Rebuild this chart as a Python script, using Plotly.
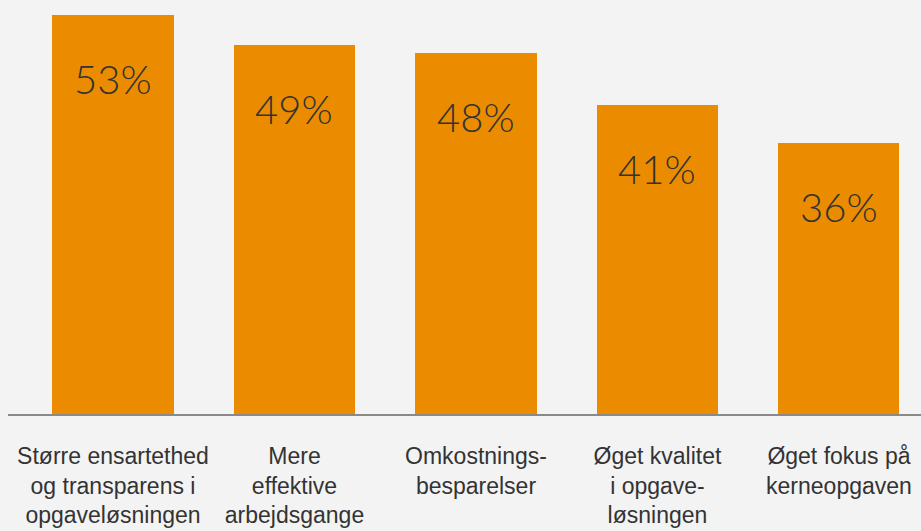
import plotly.graph_objects as go

categories = [
    "Større ensartethed<br>og transparens i<br>opgaveløsningen",
    "Mere<br>effektive<br>arbejdsgange",
    "Omkostnings-<br>besparelser",
    "Øget kvalitet<br>i opgave-<br>løsningen",
    "Øget fokus på<br>kerneopgaven",
]
values = [53, 49, 48, 41, 36]
value_labels = ["53%", "49%", "48%", "41%", "36%"]

bar_color = "#EB8C00"
bg = "#F3F3F3"
text_color = "#333333"

x_idx = list(range(len(categories)))

fig = go.Figure()
fig.add_trace(go.Bar(
    x=x_idx, y=values, width=0.667,
    marker=dict(color=bar_color, line=dict(width=0)),
    hoverinfo="skip",
))

for xi, v, lab in zip(x_idx, values, value_labels):
    fig.add_annotation(
        x=xi, y=v, text=lab, showarrow=False,
        xanchor="center", yanchor="middle", yshift=-64,
        font=dict(family="Lato", size=40, color=text_color, weight=300),
    )

fig.update_layout(
    width=921, height=531,
    margin=dict(l=8, r=0, t=0, b=117),
    paper_bgcolor=bg, plot_bgcolor=bg,
    showlegend=False,
    bargap=0,
    xaxis=dict(
        range=[-0.5785, 4.452],
        tickmode="array", tickvals=x_idx, ticktext=categories,
        showline=True, linecolor="#8A8A8A", linewidth=2,
        showgrid=False, zeroline=False, ticks="",
        tickfont=dict(family="Liberation Sans", size=23, color=text_color),
        ticklabelstandoff=20,
        fixedrange=True,
    ),
    yaxis=dict(
        range=[0, 54.98], visible=False, showgrid=False, zeroline=False,
        fixedrange=True,
    ),
)

fig.write_html(
    "out.html",
    config={"displayModeBar": False},
    post_script="document.body.style.margin='0';document.body.style.background='#F3F3F3';",
)
